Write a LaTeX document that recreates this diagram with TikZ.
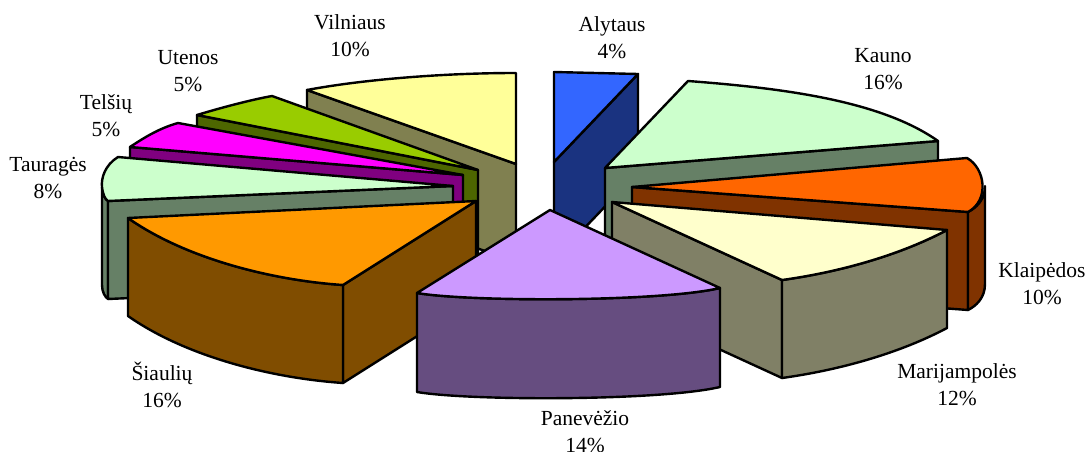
\documentclass[tikz,border=0pt]{standalone}
\usepackage{fontspec}
\setmainfont{Liberation Serif}

\definecolor{alytop}{HTML}{3366FF}
\definecolor{alyside}{HTML}{1A3380}
\definecolor{viltop}{HTML}{FFFF99}
\definecolor{vilside}{HTML}{808050}
\definecolor{kautop}{HTML}{CCFFCC}
\definecolor{kauside}{HTML}{668066}
\definecolor{uttop}{HTML}{99CC00}
\definecolor{utside}{HTML}{4D6600}
\definecolor{kltop}{HTML}{FF6600}
\definecolor{klside}{HTML}{803300}
\definecolor{teltop}{HTML}{FF00FF}
\definecolor{telside}{HTML}{800080}
\definecolor{tautop}{HTML}{CCFFCC}
\definecolor{tauside}{HTML}{668066}
\definecolor{martop}{HTML}{FFFFCC}
\definecolor{marside}{HTML}{808066}
\definecolor{siatop}{HTML}{FF9900}
\definecolor{siaside}{HTML}{804D00}
\definecolor{pantop}{HTML}{CC99FF}
\definecolor{panside}{HTML}{664D80}

\tikzset{
  slice/.style={draw=black, line width=2.4pt, line join=round},
  pielabel/.style={align=center, inner sep=0pt, font=\fontsize{21.5}{27}\selectfont}
}

\begin{document}
\begin{tikzpicture}[x=1pt,y=-1pt]
        \useasboundingbox (0,0) rectangle (1085,452);

        % Alytaus
        \filldraw[slice, fill=alyside] (638,74) -- (554,162) -- (554,260) -- (638,172) -- cycle;
        \filldraw[slice, fill=alytop] (554,72) -- (638,74) -- (554,162) -- cycle;

        % Vilniaus
        \filldraw[slice, fill=vilside] (307,90) -- (516,164) -- (516,262) -- (307,188) -- cycle;
        \filldraw[slice, fill=viltop] (307,90) .. controls (360,80) and (440,73) .. (516,73) -- (516,164) -- cycle;

        % Kauno
        \filldraw[slice, fill=kauside] (605,168) -- (938,141) -- (938,239) -- (605,266) -- cycle;
        \filldraw[slice, fill=kautop] (605,168) -- (688,81) .. controls (780,88) and (880,100) .. (938,141) -- cycle;

        % Utenos
        \filldraw[slice, fill=utside] (197,115) -- (478,170) -- (478,268) -- (197,213) -- cycle;
        \filldraw[slice, fill=uttop] (197,115) .. controls (220,108) and (250,100) .. (272,96) -- (478,170) -- cycle;

        % Klaipedos
        \filldraw[slice, fill=klside] (632,187) -- (968,212) -- (968,310) -- (632,285) -- cycle;
        \filldraw[slice, fill=klside] (985,186) .. controls (985,200) and (976,208) .. (968,212) -- (968,310) .. controls (976,306) and (985,298) .. (985,284) -- cycle;
        \filldraw[slice, fill=kltop] (632,187) -- (967,158) .. controls (985,168) and (990,200) .. (968,212) -- cycle;

        % Telsiu
        \filldraw[slice, fill=telside] (130,147) -- (463,175) -- (463,273) -- (130,245) -- cycle;
        \filldraw[slice, fill=teltop] (130,147) .. controls (145,137) and (160,128) .. (178,123) -- (463,175) -- cycle;

        % Taurages
        \filldraw[slice, fill=tauside] (102,187) .. controls (103,195) and (105,199) .. (108,201) -- (108,299) .. controls (105,297) and (102,292) .. (102,285) -- cycle;
        \filldraw[slice, fill=tauside] (108,201) -- (453,186) -- (453,284) -- (108,299) -- cycle;
        \filldraw[slice, fill=tautop] (118,157) .. controls (105,165) and (101,178) .. (102,187) .. controls (103,195) and (105,199) .. (108,201) -- (453,186) -- cycle;

        % Marijampoles
        \filldraw[slice, fill=marside] (612,202) -- (782,280) -- (782,378) -- (612,300) -- cycle;
        \filldraw[slice, fill=marside] (782,280) .. controls (840,272) and (900,255) .. (947,230) -- (947,328) .. controls (900,353) and (840,370) .. (782,378) -- cycle;
        \filldraw[slice, fill=martop] (612,202) -- (947,230) .. controls (900,255) and (840,272) .. (782,280) -- cycle;

        % Siauliu
        \filldraw[slice, fill=siaside] (343,285) -- (476,201) -- (476,299) -- (343,383) -- cycle;
        \filldraw[slice, fill=siaside] (128,218) .. controls (185,258) and (270,280) .. (343,285) -- (343,383) .. controls (270,378) and (185,356) .. (128,316) -- cycle;
        \filldraw[slice, fill=siatop] (128,218) -- (476,201) -- (343,285) .. controls (270,280) and (185,258) .. (128,218) -- cycle;

        % Panevezio
        \filldraw[slice, fill=panside] (417,293) .. controls (470,302) and (660,302) .. (720,288) -- (720,387) .. controls (660,401) and (470,401) .. (417,392) -- cycle;
        \filldraw[slice, fill=pantop] (550,210) -- (417,293) .. controls (470,302) and (660,302) .. (720,288) -- cycle;

        \node[pielabel] (alytaus) at (612,38) {Alytaus\\4\%};
        \node[pielabel] (kauno) at (883,69) {Kauno\\16\%};
        \node[pielabel] (klaipedos) at (1042,284) {Klaipėdos\\10\%};
        \node[pielabel] (marijampoles) at (957,385) {Marijampolės\\12\%};
        \node[pielabel] (panevezio) at (585,432) {Panevėžio\\14\%};
        \node[pielabel] (siauliu) at (162,385) {Šiaulių\\16\%};
        \node[pielabel] (taurages) at (48,178) {Tauragės\\8\%};
        \node[pielabel] (telsiu) at (106,116) {Telšių\\5\%};
        \node[pielabel] (utenos) at (188,71) {Utenos\\5\%};
        \node[pielabel] (vilniaus) at (350,36) {Vilniaus\\10\%};
    \end{tikzpicture}
\end{document}
